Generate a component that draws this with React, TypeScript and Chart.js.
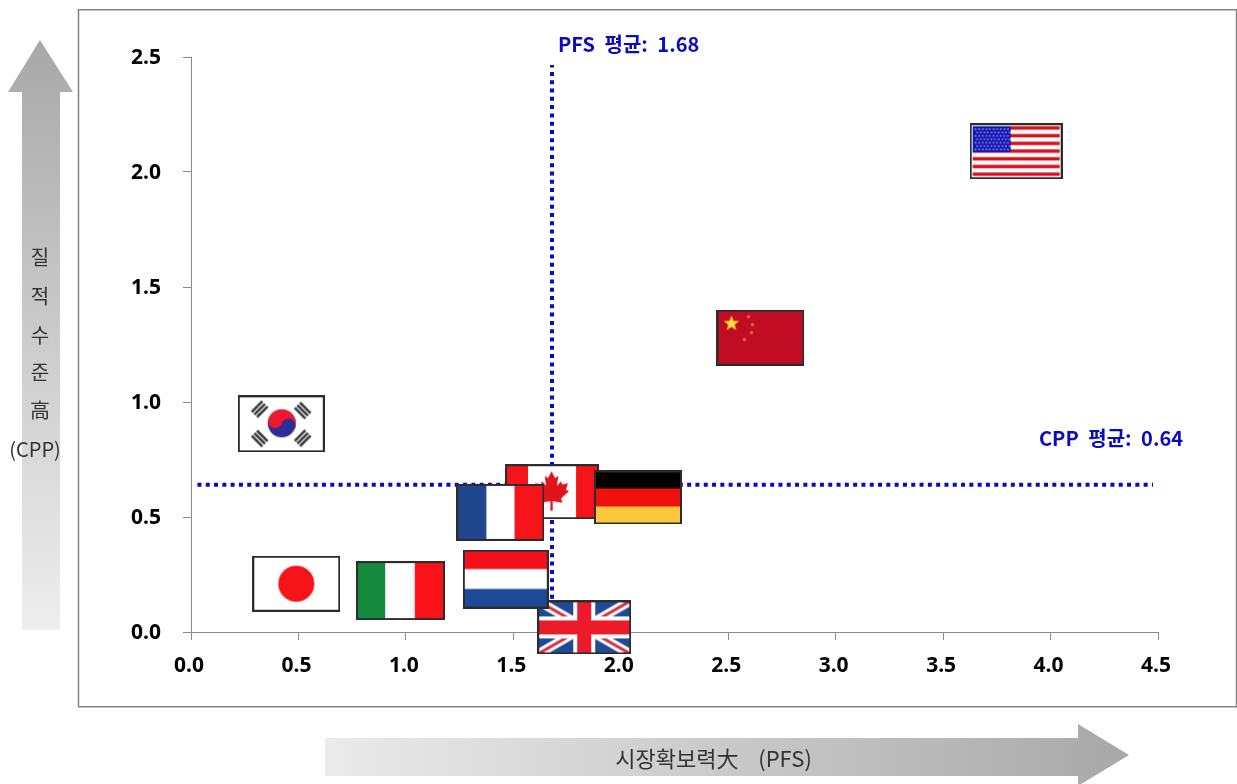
import React, { useEffect, useRef } from "react";
import { Chart, registerables } from "chart.js";

Chart.register(...registerables);

// Countries in paint order: later entries sit on top of earlier ones.
const countries = ["CAN", "DEU", "FRA", "GBR", "NLD", "JPN", "ITA", "KOR", "CHN", "USA"];
const pfsValues = [1.68, 2.08, 1.44, 1.83, 1.465, 0.49, 0.975, 0.42, 2.65, 3.84];
const cppValues = [0.61, 0.585, 0.52, 0.02, 0.23, 0.21, 0.18, 0.905, 1.28, 2.09];

const pfsAverage = 1.68;
const cppAverage = 0.64;
const pfsLineSpan = [0, 2.465];
const cppLineSpan = [0.03, 4.477];

const xTickStep = 0.5;
const yTickStep = 0.5;
const xMax = 4.5;
const yMax = 2.5;

const yTitleGlyphs = ["질", "적", "수", "준", "高", "(CPP)"];
const xTitle = "시장확보력大  (PFS)";
const pfsLabel = "PFS 평균: 1.68";
const cppLabel = "CPP 평균: 0.64";

const KR = '"Noto Sans CJK KR", "Noto Sans", sans-serif';
const BLUE = "#0a0ac4";

type Ctx = CanvasRenderingContext2D;
type Paint = (c: Ctx, w: number, h: number) => void;

function star(c: Ctx, x: number, y: number, r: number) {
  c.beginPath();
  for (let i = 0; i < 10; i++) {
    const a = -Math.PI / 2 + (i * Math.PI) / 5;
    const d = i % 2 ? r * 0.42 : r;
    c.lineTo(x + Math.cos(a) * d, y + Math.sin(a) * d);
  }
  c.closePath();
  c.fill();
}

function bandsV(c: Ctx, w: number, h: number, cols: [string, number][]) {
  let x = 0;
  for (const [col, bw] of cols) {
    c.fillStyle = col;
    c.fillRect(x, 0, bw * w, h);
    x += bw * w;
  }
}

function bandsH(c: Ctx, w: number, h: number, cols: string[]) {
  cols.forEach((col, i) => {
    c.fillStyle = col;
    c.fillRect(0, (i * h) / cols.length, w, h / cols.length);
  });
}

const mapleHalf = [
  [0, -1], [0.18, -0.66], [0.36, -0.76], [0.28, -0.28], [0.5, -0.5], [0.56, -0.34],
  [0.86, -0.4], [0.76, -0.08], [0.92, 0], [0.5, 0.36], [0.58, 0.58], [0.06, 0.5], [0.06, 0.98],
];

function trigram(c: Ctx, x: number, y: number, angle: number) {
  c.save();
  c.translate(x, y);
  c.rotate(angle);
  c.fillStyle = "#3a3a3a";
  for (const off of [-5.2, -1.5, 2.2]) c.fillRect(off, -7.5, 2.6, 15);
  c.restore();
}

const flags: Record<string, { w: number; h: number; paint: Paint }> = {
  USA: {
    w: 93, h: 56,
    paint: (c, w, h) => {
      c.fillStyle = "#fff";
      c.fillRect(0, 0, w, h);
      for (let i = 0; i < 7; i++) {
        c.fillStyle = "#d8101c";
        c.fillRect(3, 3 + i * 7.7, w - 6, 3.4);
      }
      c.fillStyle = "#1414b4";
      c.fillRect(3, 3, 38, 26);
      c.fillStyle = "#9a9ae8";
      for (let r = 0; r < 7; r++)
        for (let q = 0; q < 10; q++) c.fillRect(5 + q * 3.6 + (r % 2) * 1.6, 5 + r * 3.4, 1.6, 1.6);
    },
  },
  CHN: {
    w: 88, h: 56,
    paint: (c, w, h) => {
      c.fillStyle = "#c10c24";
      c.fillRect(0, 0, w, h);
      c.fillStyle = "#ffe23c";
      star(c, 15, 14, 8);
      c.fillStyle = "#e86a50";
      for (const [x, y] of [[32, 7], [36, 15], [35, 23], [28, 30]]) {
        c.beginPath();
        c.arc(x, y, 1.7, 0, Math.PI * 2);
        c.fill();
      }
    },
  },
  KOR: {
    w: 87, h: 57,
    paint: (c, w, h) => {
      c.fillStyle = "#fff";
      c.fillRect(0, 0, w, h);
      const cx = w / 2 + 0.5;
      const cy = h / 2 - 0.5;
      const r = 14;
      const tilt = Math.PI / 10;
      c.fillStyle = "#2a2f96";
      c.beginPath();
      c.arc(cx, cy, r, 0, Math.PI * 2);
      c.fill();
      c.save();
      c.translate(cx, cy);
      c.rotate(tilt);
      c.fillStyle = "#f0182c";
      c.beginPath();
      c.arc(0, 0, r, Math.PI, 0);
      c.arc(r / 2, 0, r / 2, 0, Math.PI, false);
      c.fill();
      c.beginPath();
      c.arc(-r / 2, 0, r / 2, 0, Math.PI * 2);
      c.fill();
      c.fillStyle = "#2a2f96";
      c.beginPath();
      c.arc(r / 2, 0, r / 2, 0, Math.PI * 2);
      c.fill();
      c.restore();
      trigram(c, 22, 14, Math.PI / 4);
      trigram(c, 65, 15, -Math.PI / 4);
      trigram(c, 22, 43, -Math.PI / 4);
      trigram(c, 65, 43, Math.PI / 4);
    },
  },
  CAN: {
    w: 94, h: 55,
    paint: (c, w, h) => {
      bandsV(c, w, h, [["#f4141a", 0.245], ["#ffffff", 0.51], ["#f4141a", 0.245]]);
      const cx = w / 2 - 0.5;
      const cy = 27;
      const sx = 19;
      const sy = 20;
      c.fillStyle = "#e0141c";
      c.beginPath();
      mapleHalf.forEach(([x, y]) => c.lineTo(cx + x * sx, cy + y * sy));
      [...mapleHalf].reverse().forEach(([x, y]) => c.lineTo(cx - x * sx, cy + y * sy));
      c.closePath();
      c.fill();
    },
  },
  DEU: {
    w: 88, h: 54,
    paint: (c, w, h) => bandsH(c, w, h, ["#000000", "#f01010", "#fdc83c"]),
  },
  FRA: {
    w: 88, h: 57,
    paint: (c, w, h) => bandsV(c, w, h, [["#1f468f", 0.34], ["#ffffff", 0.32], ["#f6141a", 0.34]]),
  },
  NLD: {
    w: 86, h: 59,
    paint: (c, w, h) => bandsH(c, w, h, ["#f4101a", "#ffffff", "#1c4a98"]),
  },
  JPN: {
    w: 88, h: 56,
    paint: (c, w, h) => {
      c.fillStyle = "#fff";
      c.fillRect(0, 0, w, h);
      c.fillStyle = "#f4141a";
      c.beginPath();
      c.arc(w / 2, h / 2, 18, 0, Math.PI * 2);
      c.fill();
    },
  },
  ITA: {
    w: 89, h: 59,
    paint: (c, w, h) => bandsV(c, w, h, [["#148a3c", 0.33], ["#ffffff", 0.33], ["#fb1216", 0.34]]),
  },
  GBR: {
    w: 94, h: 54,
    paint: (c, w, h) => {
      c.fillStyle = "#1f4a96";
      c.fillRect(0, 0, w, h);
      const diag = (col: string, lw: number) => {
        c.strokeStyle = col;
        c.lineWidth = lw;
        c.beginPath();
        c.moveTo(0, 0);
        c.lineTo(w, h);
        c.moveTo(w, 0);
        c.lineTo(0, h);
        c.stroke();
      };
      diag("#ffffff", 9);
      diag("#d8303a", 3);
      c.fillStyle = "#fff";
      c.fillRect(w / 2 - 11, 0, 22, h);
      c.fillRect(0, h / 2 - 11, w, 22);
      c.fillStyle = "#ea1c2c";
      c.fillRect(w / 2 - 7, 0, 14, h);
      c.fillRect(0, h / 2 - 7, w, 14);
    },
  },
};

function flagCanvas(code: string) {
  const { w, h, paint } = flags[code];
  const cv = document.createElement("canvas");
  cv.width = w;
  cv.height = h;
  const c = cv.getContext("2d") as Ctx;
  paint(c, w, h);
  c.strokeStyle = "#2c2c2c";
  c.lineWidth = 2;
  c.strokeRect(1, 1, w - 2, h - 2);
  return cv;
}

// Panel frame and the two gradient arrows behind the plot.
const panelPlugin = {
  id: "panel",
  beforeDraw(chart: Chart) {
    const c = chart.ctx;
    c.save();
    c.strokeStyle = "#858585";
    c.lineWidth = 1.5;
    c.strokeRect(78.5, 9.75, 1158, 697);

    const vg = c.createLinearGradient(0, 40, 0, 630);
    vg.addColorStop(0, "#a8a8a8");
    vg.addColorStop(1, "#eeeeee");
    c.fillStyle = vg;
    c.beginPath();
    c.moveTo(40, 40);
    c.lineTo(73, 92);
    c.lineTo(60, 92);
    c.lineTo(60, 630);
    c.lineTo(22, 630);
    c.lineTo(22, 92);
    c.lineTo(8, 92);
    c.closePath();
    c.fill();

    const hg = c.createLinearGradient(325, 0, 1129, 0);
    hg.addColorStop(0, "#ebebeb");
    hg.addColorStop(1, "#a8a8a8");
    c.fillStyle = hg;
    c.beginPath();
    c.moveTo(325, 738);
    c.lineTo(1078, 738);
    c.lineTo(1078, 724);
    c.lineTo(1129, 755);
    c.lineTo(1078, 786);
    c.lineTo(1078, 776);
    c.lineTo(325, 776);
    c.closePath();
    c.fill();

    c.fillStyle = "#333333";
    c.textBaseline = "middle";
    c.textAlign = "center";
    c.font = `400 20px ${KR}`;
    const ys = [257, 296, 335, 372, 410, 449];
    yTitleGlyphs.forEach((g, i) => c.fillText(g, i === 5 ? 35 : 40, ys[i]));
    c.font = `400 22px ${KR}`;
    (c as any).wordSpacing = "5px";
    c.fillText(xTitle, 713.5, 759);
    c.restore();
  },
  afterDatasetsDraw(chart: Chart) {
    const c = chart.ctx;
    const sx = chart.scales.x;
    const sy = chart.scales.y;
    c.save();
    c.fillStyle = BLUE;
    c.textBaseline = "middle";
    c.font = `700 20px ${KR}`;
    (c as any).wordSpacing = "5px";
    c.textAlign = "left";
    c.fillText(pfsLabel, sx.getPixelForValue(pfsAverage) + 6, 44);
    c.textAlign = "right";
    c.fillText(cppLabel, 1183, sy.getPixelForValue(cppAverage) - 46);
    (c as any).wordSpacing = "0px";
    c.restore();
  },
};

export default function App() {
  const ref = useRef<HTMLCanvasElement | null>(null);

  useEffect(() => {
    const canvas = ref.current;
    if (!canvas) return;

    const tickFont = { family: '"Noto Sans", sans-serif', size: 21, weight: "bold" as const };
    const averageLine = {
      showLine: true,
      pointRadius: 0,
      borderColor: BLUE,
      borderWidth: 4,
      borderDash: [4, 4.3],
      borderCapStyle: "butt" as const,
      fill: false,
      clip: false as const,
    };

    const chart = new Chart(canvas, {
      type: "scatter",
      data: {
        datasets: [
          {
            label: "Countries",
            order: 0,
            data: countries.map((_, i) => ({ x: pfsValues[i], y: cppValues[i] })),
            pointStyle: countries.map(flagCanvas) as any,
            pointRadius: 30,
            pointHoverRadius: 30,
            clip: false as const,
          },
          {
            ...averageLine,
            label: "PFS 평균",
            order: 1,
            data: pfsLineSpan.map((y) => ({ x: pfsAverage, y })),
          },
          {
            ...averageLine,
            label: "CPP 평균",
            order: 1,
            data: cppLineSpan.map((x) => ({ x, y: cppAverage })),
          },
        ],
      },
      options: {
        responsive: false,
        animation: false,
        layout: { padding: { left: 0, top: 57, right: 79, bottom: 52 } },
        plugins: { legend: { display: false }, tooltip: { enabled: false } },
        scales: {
          x: {
            type: "linear",
            min: 0,
            max: xMax,
            afterFit: (s: any) => {
              s.height = 100;
            },
            grid: { drawOnChartArea: false, color: "#8c8c8c", tickLength: 8 },
            border: { color: "#8c8c8c" },
            ticks: {
              stepSize: xTickStep,
              color: "#000",
              font: tickFont,
              padding: 13,
              labelOffset: -2,
              maxRotation: 0,
              callback: (v: any) => Number(v).toFixed(1),
            },
          },
          y: {
            type: "linear",
            min: 0,
            max: yMax,
            afterFit: (s: any) => {
              s.width = 191;
            },
            grid: { drawOnChartArea: false, color: "#8c8c8c", tickLength: 8 },
            border: { color: "#8c8c8c" },
            ticks: {
              stepSize: yTickStep,
              color: "#000",
              font: tickFont,
              padding: 22,
              labelOffset: 1.5,
              callback: (v: any) => Number(v).toFixed(1),
            },
          },
        },
      },
      plugins: [panelPlugin],
    });
    return () => chart.destroy();
  }, []);

  return (
    <div style={{ position: "absolute", left: 0, top: 0, width: 1237, height: 784, overflow: "hidden", background: "#fff" }}>
      <canvas ref={ref} width={1237} height={784} style={{ display: "block" }} />
    </div>
  );
}
